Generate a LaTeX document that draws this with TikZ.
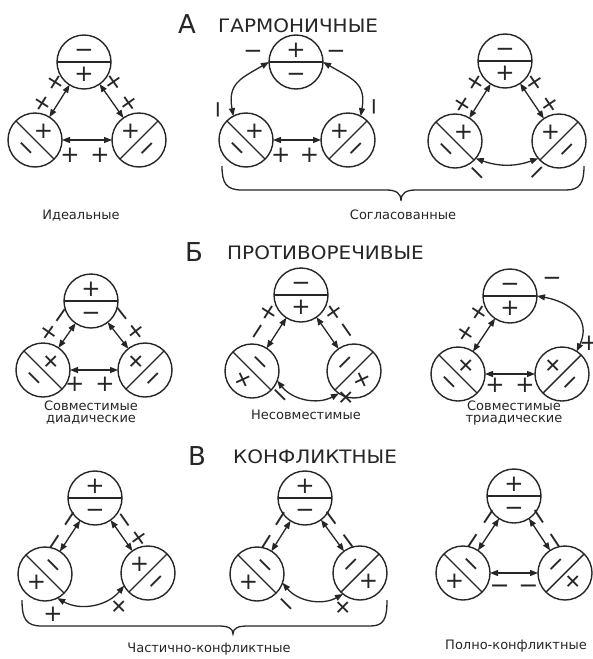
\documentclass[tikz,border=0pt]{standalone}
\usepackage{fontspec}
\newfontfamily\signfont{DejaVu Sans}
\newfontfamily\capfont{DejaVu Sans}
\newfontfamily\headfont[FakeStretch=1.08]{DejaVu Sans}
\usetikzlibrary{arrows.meta,calc}
\definecolor{ink}{HTML}{262626}
\newcommand\PL{+}
\newcommand\MI{\vphantom{+}−}
\newcommand\TopCirc[5]{%
  \node[circ] (#1) at (#2,-#3) {};
  \draw[div] (#1.180) -- (#1.0);
  \node[sign] (#1u) at ($(#1)+(0,11.5)$) {#4};
  \node[sign] (#1d) at ($(#1)+(0,-12)$) {#5};}
\newcommand\LeftCirc[7]{%
  \node[circ] (#1) at (#2,-#3) {};
  \draw[div] (#1.135) -- (#1.-45);
  \node[sign, rotate=#5] (#1u) at ($(#1)+(45:12pt)$) {#4};
  \node[sign, rotate=#7] (#1d) at ($(#1)+(225:12pt)$) {#6};}
\newcommand\RightCirc[7]{%
  \node[circ] (#1) at (#2,-#3) {};
  \draw[div] (#1.45) -- (#1.225);
  \node[sign, rotate=#5] (#1u) at ($(#1)+(135:12pt)$) {#4};
  \node[sign, rotate=#7] (#1d) at ($(#1)+(-45:12pt)$) {#6};}
\newcommand\EdgeLab[9]{%
  \path (#1) -- node[#9, sloped, pos=#5, #3=#4pt] (#1#2a) {#6}
                node[#9, sloped, pos=#7, #3=#4pt] (#1#2b) {#8} (#2);}
\begin{document}
\begin{tikzpicture}[x=1pt,y=1pt,
  circ/.style={circle, draw=ink, line width=1.4pt, minimum size=54pt, inner sep=0pt, outer sep=0pt},
  div/.style={draw=ink, line width=1.4pt},
  arr/.style={draw=ink, line width=1.3pt, >={Triangle[length=8pt,width=6pt]}, <->},
  brace/.style={draw=ink, line width=1.3pt},
  sign/.style={font=\signfont\fontsize{23}{23}\selectfont, inner sep=0pt, outer sep=0pt, text=ink},
  bigsign/.style={font=\signfont\fontsize{24}{24}\selectfont, inner sep=0pt, outer sep=0pt, text=ink},
  capt/.style={font=\capfont\fontsize{13}{15}\selectfont, text=ink, inner sep=0pt, anchor=base},
  head/.style={font=\headfont\fontsize{18.5}{20}\selectfont, text=ink, inner sep=0pt, anchor=base west},
  headL/.style={font=\capfont\fontsize{26}{26}\selectfont, text=ink, inner sep=0pt, anchor=base west}]
\useasboundingbox (0,0) rectangle (593,-659);
\fill[white] (0,0) rectangle (593,-659);

% ---------- headings ----------
\node[headL] (hA) at (178,-33) {А};
\node[head] (hAw) at (218,-32) {ГАРМОНИЧНЫЕ};
\node[headL] (hB) at (185,-261) {Б};
\node[head] (hBw) at (227,-259) {ПРОТИВОРЕЧИВЫЕ};
\node[headL] (hC) at (188,-465) {В};
\node[head] (hCw) at (233,-463) {КОНФЛИКТНЫЕ};

% ---------- A1 ideal ----------
\TopCirc{a1t}{84}{62}{\MI}{\PL}
\LeftCirc{a1l}{35}{140}{\PL}{0}{\MI}{-45}
\RightCirc{a1r}{139}{140}{\PL}{0}{\MI}{45}
\draw[arr] (a1t) -- (a1l);
\draw[arr] (a1t) -- (a1r);
\draw[arr] (a1l) -- (a1r);
\EdgeLab{a1t}{a1l}{above}{6}{.16}{\PL}{.79}{\PL}{sign}
\EdgeLab{a1t}{a1r}{above}{6}{.16}{\PL}{.79}{\PL}{sign}
\EdgeLab{a1l}{a1r}{below}{8}{.16}{\PL}{.76}{\PL}{sign}

% ---------- A2 ----------
\TopCirc{a2t}{296}{62}{\PL}{\MI}
\LeftCirc{a2l}{246}{140}{\PL}{0}{\MI}{-45}
\RightCirc{a2r}{348}{140}{\PL}{0}{\MI}{45}
\draw[arr] (a2t.180) to[out=210,in=100,looseness=1.3] (a2l.118);
\draw[arr] (a2t.0) to[out=-30,in=80,looseness=1.3] (a2r.62);
\draw[arr] (a2l) -- (a2r);
\EdgeLab{a2l}{a2r}{below}{8}{.16}{\PL}{.76}{\PL}{sign}
\node[sign] (a2m1) at ($(a2t)+(-43,11)$) {\MI};
\node[sign] (a2m2) at ($(a2t)+(40,11)$) {\MI};
\node[sign,rotate=90] (a2m3) at ($(a2l)+(-28,30)$) {\MI};
\node[sign,rotate=90] (a2m4) at ($(a2r)+(26,33)$) {\MI};

% ---------- A3 ----------
\TopCirc{a3t}{505}{61}{\MI}{\PL}
\LeftCirc{a3l}{455}{141}{\PL}{0}{\MI}{-45}
\RightCirc{a3r}{559}{141}{\PL}{0}{\MI}{45}
\draw[arr] (a3t) -- (a3l);
\draw[arr] (a3t) -- (a3r);
\draw[arr] (a3l.-40) to[bend right=20] (a3r.220);
\EdgeLab{a3t}{a3l}{above}{6}{.17}{\PL}{.8}{\PL}{sign}
\EdgeLab{a3t}{a3r}{above}{6}{.17}{\PL}{.8}{\PL}{sign}
\node[sign,rotate=-45] (a3m1) at ($(a3l)+(22,-32)$) {\MI};
\node[sign,rotate=45] (a3m2) at ($(a3r)+(-22,-32)$) {\MI};

% brace A
\draw[brace] (222,-166) .. controls (222,-183) and (226,-190) .. (242,-190) -- (386,-190)
  .. controls (396,-190) and (401,-193) .. (401,-201)
  .. controls (401,-193) and (406,-190) .. (416,-190) -- (566,-190)
  .. controls (580,-190) and (584,-183) .. (584,-166);
\node[capt] (capA1) at (81,-219) {Идеальные};
\node[capt] (capA2) at (403,-219) {Согласованные};

% ---------- B1 ----------
\TopCirc{b1t}{91}{301}{\PL}{\MI}
\LeftCirc{b1l}{43}{370}{\PL}{45}{\MI}{-45}
\RightCirc{b1r}{145}{370}{\PL}{45}{\MI}{45}
\draw[arr] (b1t) -- (b1l);
\draw[arr] (b1t) -- (b1r);
\draw[arr] (b1l) -- (b1r);
\EdgeLab{b1t}{b1l}{above}{9}{.06}{\MI}{.75}{\PL}{sign}
\EdgeLab{b1t}{b1r}{above}{9}{.06}{\MI}{.75}{\PL}{sign}
\EdgeLab{b1l}{b1r}{below}{7}{.1}{\PL}{.73}{\PL}{sign}
\node[capt] (capB1a) at (91,-410) {Совместимые};
\node[capt] (capB1b) at (91,-422) {диадические};

% ---------- B2 ----------
\TopCirc{b2t}{301}{295}{\MI}{\PL}
\LeftCirc{b2l}{252}{371}{\MI}{-45}{\PL}{25}
\RightCirc{b2r}{354}{371}{\MI}{45}{\PL}{25}
\draw[arr] (b2t) -- (b2l);
\draw[arr] (b2t) -- (b2r);
\draw[arr] (b2l.-21) to[bend right=40] (b2r.236);
\EdgeLab{b2t}{b2l}{above}{10}{.15}{\PL}{.74}{\MI}{sign}
\EdgeLab{b2t}{b2r}{above}{10}{.15}{\PL}{.74}{\MI}{sign}
\node[sign,rotate=-45] (b2m1) at ($(b2l)+(28,-24)$) {\MI};
\node[sign,rotate=45] (b2m2) at ($(b2r)+(-8,-27)$) {\PL};
\node[capt] (capB2) at (306,-419) {Несовместимые};

% ---------- B3 ----------
\TopCirc{b3t}{510}{296}{\MI}{\PL}
\LeftCirc{b3l}{458}{374}{\PL}{45}{\MI}{-45}
\RightCirc{b3r}{562}{374}{\PL}{45}{\MI}{45}
\draw[arr] (b3t) -- (b3l);
\draw[arr] (b3t.0) to[out=-10,in=65,looseness=1.3] (b3r.57);
\draw[arr] (b3l) -- (b3r);
\EdgeLab{b3t}{b3l}{above}{9}{.1}{\PL}{.72}{\PL}{sign}
\EdgeLab{b3l}{b3r}{below}{4}{.2}{\PL}{.8}{\PL}{sign}
\node[sign] (b3m1) at ($(b3t)+(42,18)$) {\MI};
\node[sign] (b3m2) at ($(b3r)+(27,31)$) {\PL};
\node[capt] (capB3a) at (514,-410) {Совместимые};
\node[capt] (capB3b) at (514,-422) {триадические};

% ---------- C1 ----------
\TopCirc{c1t}{95}{498}{\PL}{\MI}
\LeftCirc{c1l}{45}{574}{\MI}{-45}{\PL}{0}
\RightCirc{c1r}{148}{573}{\PL}{0}{\MI}{45}
\draw[arr] (c1t) -- (c1l);
\draw[arr] (c1t) -- (c1r);
\draw[arr] (c1l.-63) to[bend right=40] (c1r.208);
\EdgeLab{c1t}{c1l}{above}{2}{.12}{\MI}{.86}{\MI}{bigsign}
\EdgeLab{c1t}{c1r}{above}{5}{.22}{\MI}{.82}{\PL}{sign}
\node[sign] (c1m1) at ($(c1l)+(8,-40)$) {\PL};
\node[sign,rotate=45] (c1m2) at ($(c1r)+(-29,-34)$) {\PL};

% ---------- C2 ----------
\TopCirc{c2t}{305}{498}{\PL}{\MI}
\LeftCirc{c2l}{257}{574}{\MI}{-45}{\PL}{0}
\RightCirc{c2r}{360}{573}{\MI}{45}{\PL}{0}
\draw[arr] (c2t) -- (c2l);
\draw[arr] (c2t) -- (c2r);
\draw[arr] (c2l.-19) to[bend right=40] (c2r.231);
\EdgeLab{c2t}{c2l}{above}{2}{.12}{\MI}{.86}{\MI}{bigsign}
\EdgeLab{c2t}{c2r}{above}{2}{.12}{\MI}{.86}{\MI}{bigsign}
\node[sign,rotate=-45] (c2m1) at ($(c2l)+(29,-30)$) {\MI};
\node[sign,rotate=45] (c2m2) at ($(c2r)+(-17,-35)$) {\PL};

% brace C
\draw[brace] (22,-600) .. controls (22,-619) and (26,-626) .. (42,-626) -- (218,-626)
  .. controls (228,-626) and (233,-628) .. (233,-634)
  .. controls (233,-628) and (238,-626) .. (248,-626) -- (370,-626)
  .. controls (384,-626) and (387,-619) .. (387,-600);
\node[capt] (capC1) at (209,-652) {Частично-конфликтные};

% ---------- C3 ----------
\TopCirc{c3t}{514}{496}{\PL}{\MI}
\LeftCirc{c3l}{463}{573}{\MI}{-45}{\PL}{0}
\RightCirc{c3r}{565}{573}{\MI}{45}{\PL}{45}
\draw[arr] (c3t) -- (c3l);
\draw[arr] (c3t) -- (c3r);
\draw[arr] (c3l) -- (c3r);
\EdgeLab{c3t}{c3l}{above}{2}{.12}{\MI}{.86}{\MI}{bigsign}
\EdgeLab{c3t}{c3r}{above}{2}{.12}{\MI}{.86}{\MI}{bigsign}
\EdgeLab{c3l}{c3r}{below}{5}{.2}{\MI}{.8}{\MI}{bigsign}
\node[capt] (capC3) at (516,-649) {Полно-конфликтные};
\end{tikzpicture}
\end{document}
